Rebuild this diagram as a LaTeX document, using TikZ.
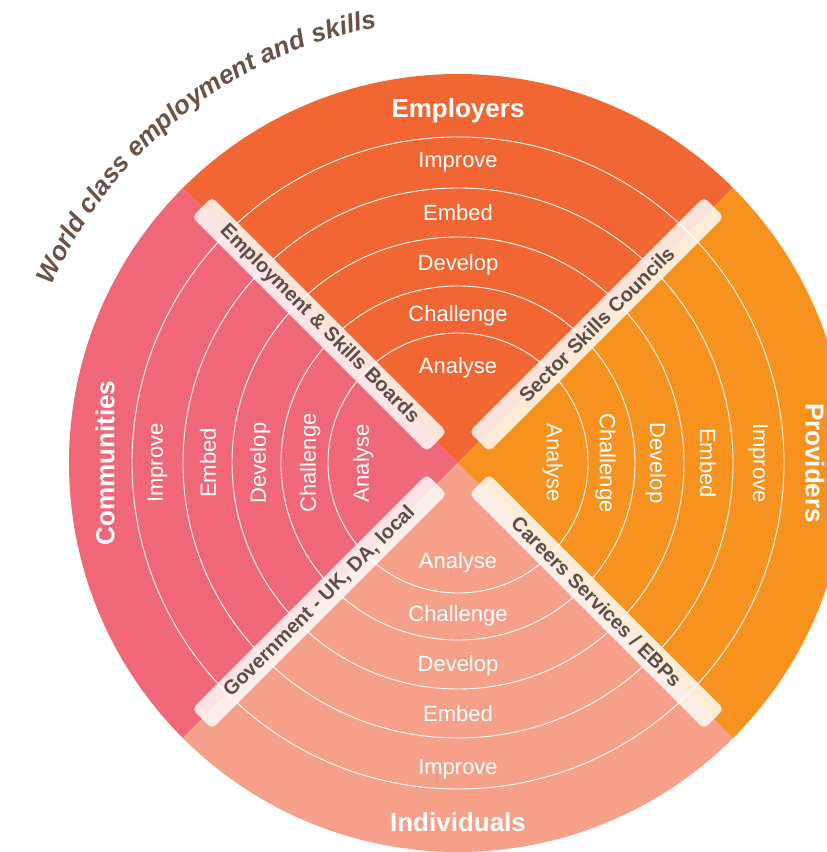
\documentclass[tikz,border=0pt]{standalone}
\usepackage{fontspec}
\setmainfont{Liberation Sans}
\usetikzlibrary{decorations.text}

\definecolor{empcol}{HTML}{F26633}
\definecolor{procol}{HTML}{F7921F}
\definecolor{indcol}{HTML}{F6A08A}
\definecolor{comcol}{HTML}{F06878}
\definecolor{bartext}{HTML}{5B4D47}
\definecolor{titlebrown}{HTML}{6A5246}

\begin{document}
\begin{tikzpicture}[x=1pt, y=1pt,
        ring/.style={text=white, font=\fontsize{22}{24}\selectfont, inner sep=0pt, text height=16pt, text depth=0pt},
        head/.style={text=white, font=\fontsize{26}{28}\selectfont\bfseries, inner sep=0pt, text height=19pt, text depth=0pt},
        bar/.style={fill=white, fill opacity=0.82, text opacity=1, rounded corners=5pt,
            minimum width=332pt, minimum height=28pt, inner sep=0pt, text=bartext,
            font=\fontsize{20}{22}\selectfont\bfseries}]
        \clip (-458,-389) rectangle (369,463);

        % the four quarters
        \fill[empcol] (0,0) -- (45:389) arc[start angle=45, end angle=135, radius=389] -- cycle;
        \fill[comcol] (0,0) -- (135:389) arc[start angle=135, end angle=225, radius=389] -- cycle;
        \fill[indcol] (0,0) -- (225:389) arc[start angle=225, end angle=315, radius=389] -- cycle;
        \fill[procol] (0,0) -- (315:389) arc[start angle=315, end angle=405, radius=389] -- cycle;

        \foreach \r in {130,177,226,275,326}
            \draw[white, line width=0.9pt] (0,0) circle[radius=\r];

        \foreach \lab/\r in {Analyse/97, Challenge/150, Develop/200, Embed/250, Improve/303} {
            \node[ring] (emp-\lab) at (90:\r) {\lab};
            \node[ring, rotate=-90] (pro-\lab) at (0:\r) {\lab};
            \node[ring] (ind-\lab) at (-90:\r) {\lab};
            \node[ring, rotate=90] (com-\lab) at (180:\r) {\lab};
        }

        \node[head] (employers) at (90:355) {Employers};
        \node[head, rotate=-90] (providers) at (0:357) {Providers};
        \node[head] (individuals) at (-90:359) {Individuals};
        \node[head, rotate=90] (communities) at (180:353) {Communities};

        % labels along the diagonals
        \node[bar, rotate=-45] (esb) at (135:196) {Employment \& Skills Boards};
        \node[bar, rotate=45] (ssc) at (45:196) {Sector Skills Councils};
        \node[bar, rotate=45] (gov) at (225:196) {Government - UK, DA, local};
        \node[bar, rotate=-45] (ceb) at (315:196) {Careers Services / EBPs};

        \path[decorate, decoration={text along path, text align=center,
            text={|\fontsize{26}{28}\selectfont\bfseries\itshape\color{titlebrown}|World class employment and skills}}]
            (172:443) arc[start angle=172, end angle=85, radius=443];
\end{tikzpicture}
\end{document}
